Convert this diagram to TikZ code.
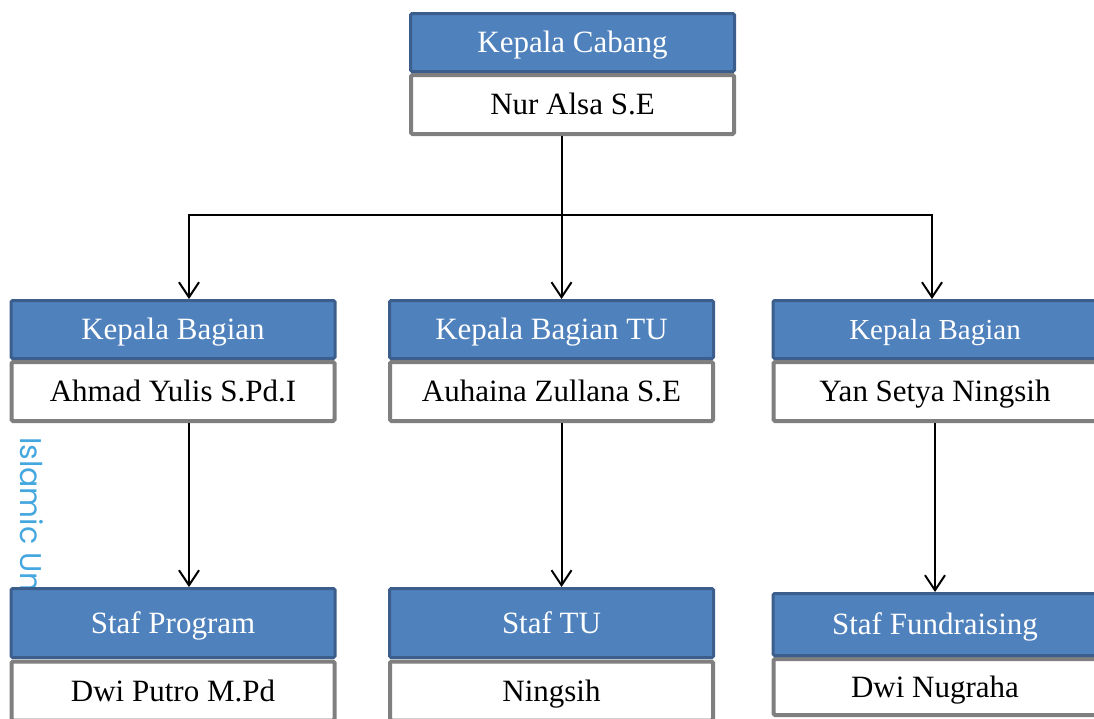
\documentclass[tikz,border=0pt]{standalone}
\usepackage{fontspec}
\setmainfont{Liberation Serif}
\newfontfamily\markfont{Poppins}
\usetikzlibrary{arrows.meta}
\definecolor{headfill}{HTML}{4F81BD}
\definecolor{headline}{HTML}{3B5E8C}
\definecolor{nameline}{HTML}{7F7F7F}
\definecolor{markblue}{HTML}{45A7DF}

\begin{document}
\begin{tikzpicture}[x=1pt, y=-1pt]
    \tikzset{
        head box/.style={rectangle, rounded corners=1.5pt, fill=headfill,
            draw=headline, line width=3pt, minimum width=324pt,
            minimum height=58pt, text=white, inner sep=0pt,
            text height=20.5pt, text depth=0pt,
            font=\fontsize{31}{36}\selectfont},
        name box/.style={rectangle, rounded corners=1.5pt, fill=white,
            draw=nameline, line width=4pt, minimum width=323pt,
            minimum height=59pt, inner sep=0pt,
            text height=20.5pt, text depth=0pt,
            font=\fontsize{31}{36}\selectfont},
        link/.style={line width=2pt, -{Straight Barb[length=15pt, width=20pt]}},
    }
    \useasboundingbox (0,0) rectangle (1094,718);

    % the watermark of the scanned page, half hidden by the boxes
    \node[rotate=-90, anchor=west, inner sep=0pt, text=markblue,
        font=\markfont\fontsize{30}{34}\selectfont] (mark) at (32,437)
        {Islamic Un};

    \node[head box] (cabang head) at (572.5,42.5) {Kepala Cabang};
    \node[name box] (alsa) at (572.5,104.5) {Nur Alsa S.E};

    \node[head box] (ahmad head) at (173,329.5) {Kepala Bagian};
    \node[name box] (ahmad) at (173,391.5) {Ahmad Yulis S.Pd.I};
    \node[head box] (auhaina head) at (551.5,329.5) {Kepala Bagian TU};
    \node[name box] (auhaina) at (551.5,391.5) {Auhaina Zullana S.E};
    \node[head box, font=\fontsize{29}{34}\selectfont] (yan head) at (935,329.5) {Kepala Bagian};
    \node[name box] (yan) at (935,391.5) {Yan Setya Ningsih};

    \node[name box] (putro) at (173,691) {Dwi Putro M.Pd};
    \node[head box, minimum height=69pt] (program head) at (173,623) {Staf Program};
    \node[name box] (ningsih) at (551.5,691) {Ningsih};
    \node[head box, minimum height=69pt] (tu head) at (551.5,623) {Staf TU};
    \node[name box, minimum height=56pt] (nugraha) at (935,687) {Dwi Nugraha};
    \node[head box, minimum height=62pt] (fund head) at (935,624.5) {Staf Fundraising};

    \coordinate (fork) at ([xshift=-11pt]alsa.south |- 0,215);
    \draw[line width=2pt] ([xshift=-11pt]alsa.south) -- (fork);
    \foreach \n/\dx in {ahmad head/16, auhaina head/10, yan head/-3}
        \draw[link] (fork) -| ([xshift=\dx pt]\n.north);

    \draw[link] ([xshift=16pt]ahmad.south) -- ([xshift=16pt]program head.north);
    \draw[link] ([xshift=10pt]auhaina.south) -- ([xshift=10pt]tu head.north);
    \draw[link] (yan.south) -- (fund head.north);
\end{tikzpicture}
\end{document}
